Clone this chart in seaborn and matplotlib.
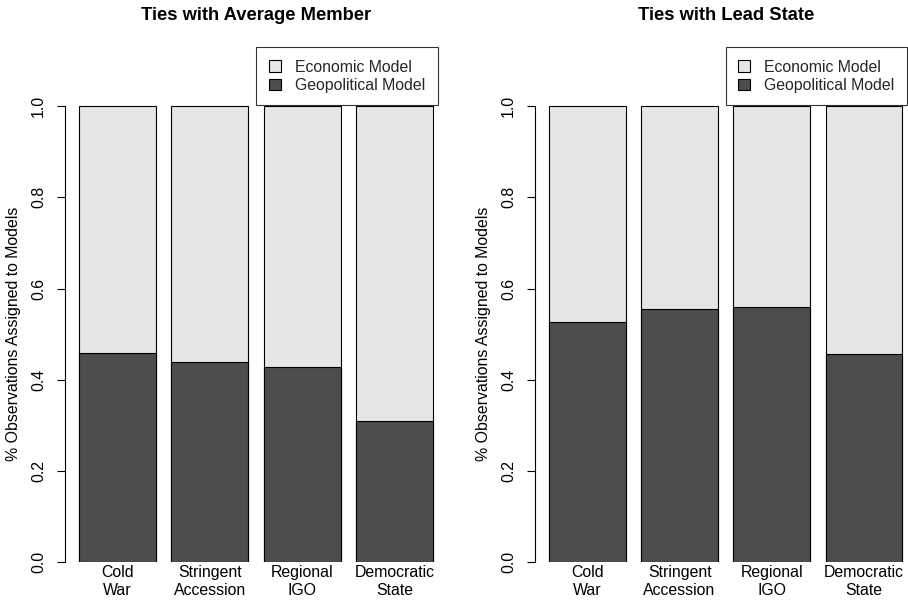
import matplotlib
matplotlib.use("Agg")
import matplotlib.pyplot as plt
import seaborn as sns
import pandas as pd
from matplotlib.patches import Patch

categories = ["Cold\nWar", "Stringent\nAccession", "Regional\nIGO", "Democratic\nState"]
geo_average = [0.458, 0.438, 0.429, 0.309]
geo_lead = [0.526, 0.556, 0.559, 0.456]
total_share = [1.0, 1.0, 1.0, 1.0]
titles = ["Ties with Average Member", "Ties with Lead State"]
legend_labels = ["Economic Model", "Geopolitical Model"]
y_ticks = [0.0, 0.2, 0.4, 0.6, 0.8, 1.0]
y_label = "% Observations Assigned to Models"

LIGHT = "#e6e6e6"
DARK = "#4d4d4d"

sns.set_theme(style="white")
plt.rcParams["font.family"] = ["Liberation Sans", "DejaVu Sans"]

fig = plt.figure(figsize=(9.08, 6.02), dpi=100)
axes = [
    fig.add_axes([0.0714, 0.0659, 0.4209, 0.7884]),
    fig.add_axes([0.5891, 0.0659, 0.4202, 0.7884]),
]

for ax, geo, title in zip(axes, [geo_average, geo_lead], titles):
    df = pd.DataFrame({"group": categories, "total": total_share, "geo": geo})
    # light bar is the full share, dark bar drawn on top of it
    sns.barplot(data=df, x="group", y="total", color=LIGHT, saturation=1,
                width=0.8333, edgecolor="black", linewidth=0.8, ax=ax)
    sns.barplot(data=df, x="group", y="geo", color=DARK, saturation=1,
                width=0.8333, edgecolor="black", linewidth=0.8, ax=ax)

    ax.set_xlim(-0.57, 3.57)
    ax.set_ylim(0, 1.04)
    ax.set_yticks(y_ticks)
    ax.set_yticklabels([f"{t:.1f}" for t in y_ticks], rotation=90, va="center")
    for s in ["top", "right", "bottom"]:
        ax.spines[s].set_visible(False)
    ax.spines["left"].set_bounds(0, 1)
    ax.spines["left"].set_color("black")
    ax.spines["left"].set_linewidth(0.8)
    ax.tick_params(axis="y", left=True, length=5.5, width=0.8, color="black",
                   pad=8, labelsize=11.4, labelcolor="black")
    ax.tick_params(axis="x", bottom=False, length=0, pad=2, labelsize=11.4,
                   labelcolor="black")
    ax.set_xlabel("")
    ax.set_ylabel(y_label, fontsize=11.4, color="black")
    ax.yaxis.set_label_coords(-0.115, 0.481)
    ax.text(0.5, 1.153, title, transform=ax.transAxes, ha="center",
            va="center", fontsize=13.2, fontweight="bold", color="black")

    handles = [Patch(facecolor=LIGHT, edgecolor="black", linewidth=0.8),
               Patch(facecolor=DARK, edgecolor="black", linewidth=0.8)]
    leg = ax.legend(handles, legend_labels, loc="upper right",
                    bbox_to_anchor=(0.976, 1.0858), borderaxespad=0,
                    fontsize=11.4, frameon=True, fancybox=False,
                    handlelength=0.75, handleheight=0.75, handletextpad=0.9,
                    labelspacing=0.2, borderpad=0.8)
    leg.get_frame().set_edgecolor("black")
    leg.get_frame().set_linewidth(0.8)
    leg.set_clip_on(False)

fig.savefig("out.png", dpi=100)
